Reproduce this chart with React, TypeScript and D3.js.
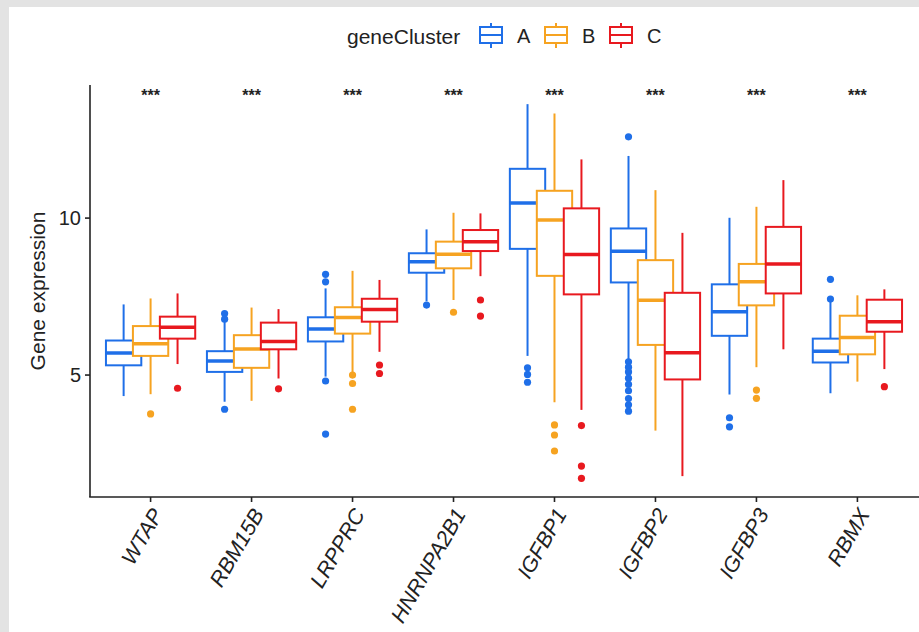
import React, { useRef, useEffect } from "react";
import * as d3 from "d3";

// genes on the x axis, and the three clusters
const genes = ["WTAP", "RBM15B", "LRPPRC", "HNRNPA2B1", "IGFBP1", "IGFBP2", "IGFBP3", "RBMX"];
const clusters = ["A", "B", "C"];
const clusterColors = ["#1f6fe8", "#f6a321", "#e8191f"];
const yTicks = [5, 10];

// box stats per gene: [lower whisker, q1, median, q3, upper whisker]
const statsA = [
  [4.33, 5.31, 5.70, 6.10, 7.25],
  [4.15, 5.10, 5.45, 5.76, 6.70],
  [4.95, 6.07, 6.47, 6.84, 7.76],
  [7.35, 8.26, 8.61, 8.88, 9.64],
  [5.61, 9.02, 10.48, 11.57, 13.63],
  [5.48, 7.95, 8.94, 9.67, 11.98],
  [4.38, 6.25, 7.02, 7.89, 10.01],
  [4.42, 5.40, 5.76, 6.16, 7.33],
];
const statsB = [
  [4.39, 5.61, 6.00, 6.56, 7.44],
  [4.18, 5.23, 5.83, 6.27, 7.15],
  [5.05, 6.32, 6.83, 7.16, 8.32],
  [7.39, 8.40, 8.85, 9.25, 10.17],
  [4.13, 8.16, 9.94, 10.87, 13.33],
  [3.23, 5.96, 7.38, 8.66, 10.89],
  [5.25, 7.22, 7.97, 8.54, 10.36],
  [4.79, 5.66, 6.20, 6.89, 7.54],
];
const statsC = [
  [5.35, 6.16, 6.52, 6.86, 7.60],
  [4.89, 5.82, 6.07, 6.67, 7.10],
  [5.74, 6.70, 7.09, 7.43, 8.03],
  [8.15, 8.95, 9.25, 9.62, 10.15],
  [3.89, 7.57, 8.84, 10.31, 11.87],
  [1.78, 4.86, 5.71, 7.62, 9.53],
  [5.82, 7.60, 8.54, 9.72, 11.21],
  [5.19, 6.38, 6.70, 7.40, 7.73],
];

// outlier points per gene
const outliersA = [
  [],
  [6.96, 6.78, 3.91],
  [8.21, 7.97, 4.81, 3.12],
  [7.23],
  [5.23, 5.02, 4.77],
  [12.59, 5.42, 5.25, 5.1, 4.9, 4.7, 4.5, 4.25, 4.05, 3.85],
  [3.64, 3.35],
  [8.05, 7.42],
];
const outliersB = [
  [3.76],
  [],
  [5.0, 4.73, 3.91],
  [7.0],
  [3.41, 3.09, 2.58],
  [],
  [4.52, 4.26],
  [],
];
const outliersC = [
  [4.58],
  [4.56],
  [5.32, 5.05],
  [7.39, 6.88],
  [3.39, 2.10, 1.71],
  [],
  [],
  [4.63],
];

const signif = ["***", "***", "***", "***", "***", "***", "***", "***"];

const W = 919, H = 632;
const margin = { top: 85, right: 1, bottom: 135, left: 90 };

const App = () => {
  const svgRef = useRef(null);

  useEffect(() => {
    const svg = d3.select(svgRef.current);
    svg.selectAll("*").remove();

    const font = "'Liberation Sans', Arial, sans-serif";
    const x = d3.scalePoint().domain(genes).range([margin.left, W - margin.right]).padding(0.6);
    const step = x.step();
    const y = d3.scaleLinear().domain([1.115, 14.24]).range([H - margin.bottom, margin.top]);
    const dodge = step * 0.267;
    const bw = step * 0.35;

    // page frame
    svg.append("rect").attr("width", W).attr("height", H).attr("fill", "#e3e3e3");
    svg.append("rect").attr("x", 9).attr("y", 7).attr("width", W - 9).attr("height", H - 7).attr("fill", "white");

    const allStats = [statsA, statsB, statsC];
    const allOut = [outliersA, outliersB, outliersC];

    clusters.forEach((c, ci) => {
      const col = clusterColors[ci];
      const g = svg.append("g").attr("class", "cluster" + c);
      const rows = allStats[ci].map((s, i) => ({ gene: genes[i], s, cx: x(genes[i]) + (ci - 1) * dodge }));

      g.selectAll("line.whisker")
        .data(rows)
        .join("line")
        .attr("class", "whisker")
        .attr("x1", d => d.cx).attr("x2", d => d.cx)
        .attr("y1", d => y(d.s[0])).attr("y2", d => y(d.s[4]))
        .style("stroke", col).style("stroke-width", 2);

      g.selectAll("rect")
        .data(rows)
        .join("rect")
        .attr("x", d => d.cx - bw / 2)
        .attr("y", d => y(d.s[3]))
        .attr("width", bw)
        .attr("height", d => y(d.s[1]) - y(d.s[3]))
        .style("fill", "white")
        .style("stroke", col).style("stroke-width", 2);

      g.selectAll("line.median")
        .data(rows)
        .join("line")
        .attr("class", "median")
        .attr("x1", d => d.cx - bw / 2).attr("x2", d => d.cx + bw / 2)
        .attr("y1", d => y(d.s[2])).attr("y2", d => y(d.s[2]))
        .style("stroke", col).style("stroke-width", 3.5);

      const pts = [];
      allOut[ci].forEach((vals, i) => vals.forEach(v => pts.push({ cx: x(genes[i]) + (ci - 1) * dodge, v })));
      g.selectAll("circle")
        .data(pts)
        .join("circle")
        .attr("cx", d => d.cx)
        .attr("cy", d => y(d.v))
        .attr("r", 3.6)
        .style("fill", col);
    });

    // significance stars
    svg.append("g")
      .selectAll("text")
      .data(genes)
      .join("text")
      .attr("x", d => x(d))
      .attr("y", 101)
      .attr("text-anchor", "middle")
      .attr("font-family", font)
      .attr("font-size", "16px")
      .attr("font-weight", 700)
      .attr("fill", "#222")
      .text((d, i) => signif[i]);

    // axes
    const axisCol = "#222";
    svg.append("line")
      .attr("x1", margin.left).attr("x2", margin.left)
      .attr("y1", margin.top).attr("y2", H - margin.bottom)
      .style("stroke", axisCol).style("stroke-width", 1.6);
    svg.append("line")
      .attr("x1", margin.left - 0.8).attr("x2", W)
      .attr("y1", H - margin.bottom).attr("y2", H - margin.bottom)
      .style("stroke", axisCol).style("stroke-width", 1.6);

    svg.append("g")
      .selectAll("line")
      .data(yTicks)
      .join("line")
      .attr("x1", margin.left - 5).attr("x2", margin.left)
      .attr("y1", d => y(d)).attr("y2", d => y(d))
      .style("stroke", axisCol).style("stroke-width", 1.6);
    svg.append("g")
      .selectAll("text")
      .data(yTicks)
      .join("text")
      .attr("x", margin.left - 9)
      .attr("y", d => y(d) + 7)
      .attr("text-anchor", "end")
      .attr("font-family", font)
      .attr("font-size", "20px")
      .attr("fill", "#222")
      .text(d => d);

    svg.append("g")
      .selectAll("line")
      .data(genes)
      .join("line")
      .attr("x1", d => x(d)).attr("x2", d => x(d))
      .attr("y1", H - margin.bottom).attr("y2", H - margin.bottom + 5)
      .style("stroke", axisCol).style("stroke-width", 1.6);
    svg.append("g")
      .selectAll("text")
      .data(genes)
      .join("text")
      .attr("transform", d => `translate(${x(d) + 13}, ${H - margin.bottom + 17}) rotate(-60)`)
      .attr("text-anchor", "end")
      .attr("font-family", font)
      .attr("font-style", "italic")
      .attr("font-size", "21.5px")
      .attr("fill", "#222")
      .text(d => d);

    svg.append("text")
      .attr("transform", `translate(45, ${(margin.top + H - margin.bottom) / 2}) rotate(-90)`)
      .attr("text-anchor", "middle")
      .attr("font-family", font)
      .attr("font-size", "21px")
      .attr("fill", "#222")
      .text("Gene expression");

    // legend
    const lg = svg.append("g");
    lg.append("text")
      .attr("x", 347).attr("y", 44)
      .attr("font-family", font).attr("font-size", "21px").attr("fill", "#222")
      .text("geneCluster");
    const keyX = [480, 545, 610];
    clusters.forEach((c, ci) => {
      const col = clusterColors[ci];
      const kx = keyX[ci];
      lg.append("line").attr("x1", kx + 11).attr("x2", kx + 11).attr("y1", 23).attr("y2", 48)
        .style("stroke", col).style("stroke-width", 2);
      lg.append("rect").attr("x", kx).attr("y", 27).attr("width", 22).attr("height", 16)
        .style("fill", "white").style("stroke", col).style("stroke-width", 2);
      lg.append("line").attr("x1", kx).attr("x2", kx + 22).attr("y1", 35).attr("y2", 35)
        .style("stroke", col).style("stroke-width", 2);
      lg.append("text").attr("x", kx + 37).attr("y", 43)
        .attr("font-family", font).attr("font-size", "20px").attr("fill", "#222")
        .text(c);
    });
  }, []);

  return (
    <div style={{ position: "fixed", left: 0, top: 0, width: W, height: H }}>
      <svg ref={svgRef} width={W} height={H}></svg>
    </div>
  );
};

export default App;
